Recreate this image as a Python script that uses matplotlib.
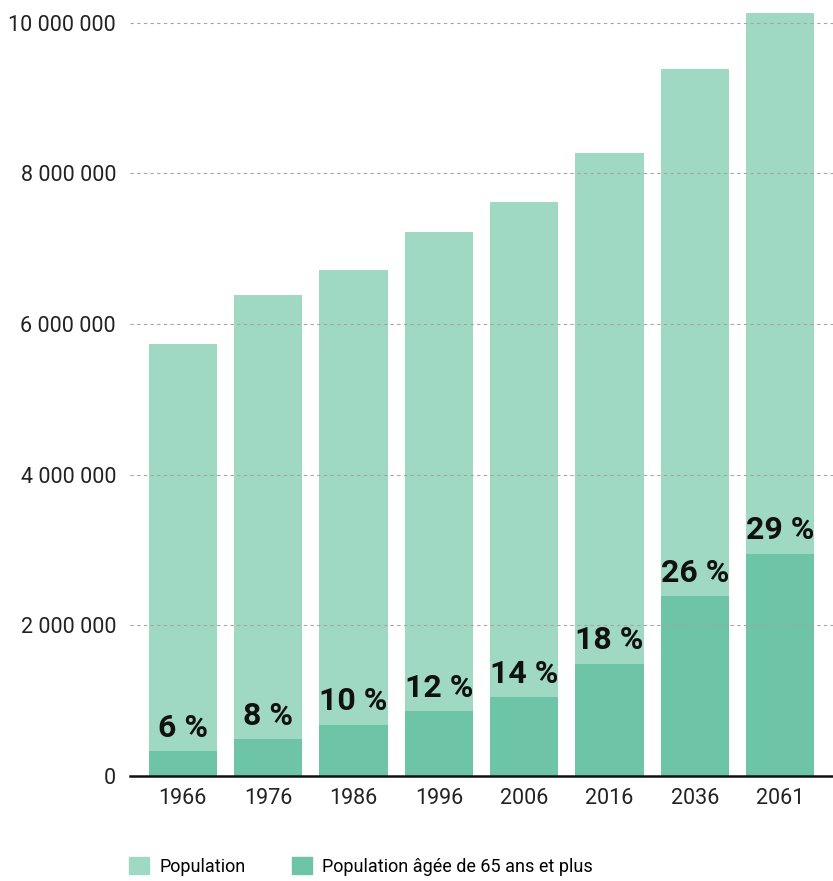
import numpy as np
import matplotlib.pyplot as plt
from matplotlib.patches import Patch

years = ["1966", "1976", "1986", "1996", "2006", "2016", "2036", "2061"]
population = [5740000, 6390000, 6710000, 7220000, 7620000, 8270000, 9380000, 10130000]
seniors = [330000, 490000, 680000, 860000, 1050000, 1490000, 2390000, 2950000]
shares = ["6 %", "8 %", "10 %", "12 %", "14 %", "18 %", "26 %", "29 %"]

light = "#9fd8c3"
dark = "#6ec4a7"

plt.rcParams['font.family'] = ['Roboto', 'DejaVu Sans']

fig = plt.figure(figsize=(8.33, 8.81), dpi=100)
ax = fig.add_axes([0.156, 0.1192, 0.844, 0.8808])

x = np.arange(len(years))
ax.bar(x, population, width=0.8, color=light)
ax.bar(x, seniors, width=0.8, color=dark)

##percentage labels just above the dark part
for xi, s, lab in zip(x, seniors, shares):
    ax.text(xi, s + 110000, lab, ha="center", va="bottom",
            fontsize=23, fontweight="bold", color="#111111", zorder=5)

ax.set_xlim(-0.62, 7.62)
ax.set_ylim(0, 10300000)
ax.set_xticks(x)
ax.set_xticklabels(years)
yt = np.arange(0, 10000001, 2000000)
ax.set_yticks(yt)
ax.set_yticklabels([f"{int(v):,}".replace(",", " ") for v in yt])
ax.tick_params(axis="both", length=0, labelsize=15.5, colors="#222222")
ax.tick_params(axis="y", pad=10)
ax.tick_params(axis="x", pad=9)

for side in ["top", "right", "left"]:
    ax.spines[side].set_visible(False)
ax.spines["bottom"].set_linewidth(1.8)
ax.spines["bottom"].set_color("#111111")

ax.set_axisbelow(False)
ax.yaxis.grid(True, linestyle=(0, (3, 3)), color="#a5a5a5", linewidth=0.8)
ax.yaxis.get_gridlines()[0].set_visible(False)

handles = [Patch(color=light, label="Population"),
           Patch(color=dark, label="Population âgée de 65 ans et plus")]
fig.legend(handles=handles, loc="lower left", bbox_to_anchor=(0.135, -0.0125),
           ncol=2, frameon=False, fontsize=13, handlelength=1.1,
           handleheight=1.1, columnspacing=2.55, handletextpad=0.6)

fig.savefig("out.png", dpi=100)
